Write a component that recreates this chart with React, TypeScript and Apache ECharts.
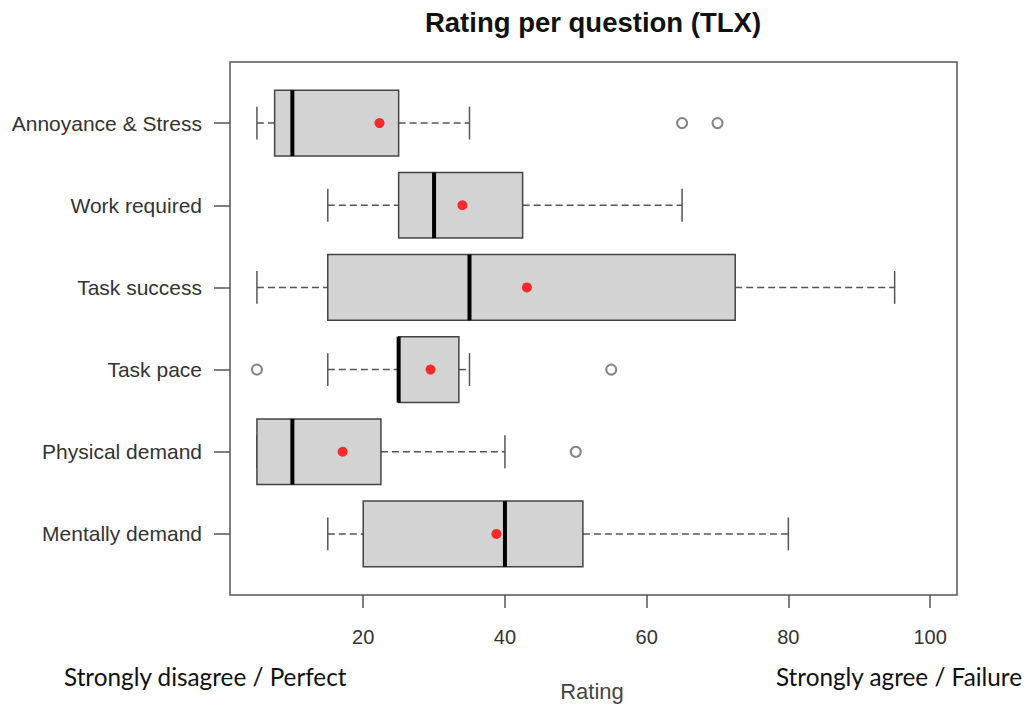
import React, { useEffect, useRef } from "react";
import * as echarts from "echarts";

const categories = [
  "Annoyance & Stress",
  "Work required",
  "Task success",
  "Task pace",
  "Physical demand",
  "Mentally demand",
];
const whiskerLow = [5, 15, 5, 15, 5, 15];
const quartile1 = [7.5, 25, 15, 25, 5, 20];
const medians = [10, 30, 35, 25, 10, 40];
const quartile3 = [25, 42.5, 72.5, 33.5, 22.5, 51];
const whiskerHigh = [35, 65, 95, 35, 40, 80];
const means = [22.3, 34, 43.1, 29.5, 17.1, 38.8];
const outlierCategories = [
  "Annoyance & Stress",
  "Annoyance & Stress",
  "Task pace",
  "Task pace",
  "Physical demand",
];
const outlierValues = [65, 70, 5, 55, 50];
const xTicks = [20, 40, 60, 80, 100];

const AXIS_FONT = "Liberation Sans, Arial, sans-serif";
const NOTE_FONT = "Lato, Open Sans, sans-serif";

export default function App() {
  const ref = useRef<HTMLDivElement>(null);

  useEffect(() => {
    if (!ref.current) return;
    const chart = echarts.init(ref.current, null, { renderer: "svg" });

    const boxData = categories.map((_, i) => [
      i,
      whiskerLow[i],
      quartile1[i],
      medians[i],
      quartile3[i],
      whiskerHigh[i],
    ]);
    const meanData = categories.map((_, i) => [means[i], i]);
    const outlierData = outlierValues.map((v, i) => [
      v,
      categories.indexOf(outlierCategories[i]),
    ]);

    const option: any = {
      animation: false,
      backgroundColor: "#ffffff",
      textStyle: { fontFamily: AXIS_FONT },
      grid: { left: 230, right: 72, top: 82, bottom: 131, containLabel: false },
      xAxis: {
        type: "value",
        min: 1.2,
        max: 103.8,
        offset: 20,
        axisLine: { show: false },
        splitLine: { show: false },
        axisTick: {
          show: true,
          length: 13,
          customValues: xTicks,
          lineStyle: { color: "#555", width: 1.5 },
        },
        axisLabel: {
          customValues: xTicks,
          fontSize: 20,
          color: "#333",
          margin: 32,
          fontFamily: AXIS_FONT,
        },
      },
      yAxis: {
        type: "category",
        data: categories,
        inverse: true,
        axisLine: { show: false },
        splitLine: { show: false },
        axisTick: {
          show: true,
          alignWithLabel: true,
          length: 16,
          lineStyle: { color: "#555", width: 1.5 },
        },
        axisLabel: {
          fontSize: 21,
          color: "#333",
          margin: 28,
          fontFamily: AXIS_FONT,
        },
      },
      graphic: [
        {
          type: "rect",
          shape: { x: 230, y: 62, width: 727, height: 533 },
          style: { fill: "none", stroke: "#555", lineWidth: 1.5 },
          z: 100,
          silent: true,
        },
        {
          type: "text",
          x: 593,
          y: 22,
          style: {
            text: "Rating per question (TLX)",
            fontFamily: AXIS_FONT,
            fontSize: 27.5,
            fontWeight: "bold",
            fill: "#111",
            align: "center",
            verticalAlign: "middle",
          },
        },
        {
          type: "text",
          x: 592,
          y: 691,
          style: {
            text: "Rating",
            fontFamily: AXIS_FONT,
            fontSize: 22,
            fill: "#444",
            align: "center",
            verticalAlign: "middle",
          },
        },
        {
          type: "text",
          x: 64,
          y: 676,
          style: {
            text: "Strongly disagree / Perfect",
            fontFamily: NOTE_FONT,
            fontSize: 24.3,
            fill: "#111",
            align: "left",
            verticalAlign: "middle",
          },
        },
        {
          type: "text",
          x: 1022,
          y: 676,
          style: {
            text: "Strongly agree / Failure",
            fontFamily: NOTE_FONT,
            fontSize: 24.3,
            fill: "#111",
            align: "right",
            verticalAlign: "middle",
          },
        },
      ],
      series: [
        {
          type: "custom",
          data: boxData,
          encode: { y: 0, x: [1, 2, 3, 4, 5] },
          renderItem: (params: any, api: any) => {
            const cat = api.value(0);
            const lo = api.coord([api.value(1), cat]);
            const a = api.coord([api.value(2), cat]);
            const m = api.coord([api.value(3), cat]);
            const b = api.coord([api.value(4), cat]);
            const hi = api.coord([api.value(5), cat]);
            const band = api.size([0, 1])[1];
            const h = band * 0.8;
            const cap = h / 2;
            const y = m[1];
            const whisk = { stroke: "#555", lineWidth: 1.5, lineDash: [7, 4] };
            const solid = { stroke: "#555", lineWidth: 1.5 };
            const children: any[] = [];
            if (a[0] > lo[0]) {
              children.push({
                type: "line",
                shape: { x1: lo[0], y1: y, x2: a[0], y2: y },
                style: whisk,
              });
            }
            if (hi[0] > b[0]) {
              children.push({
                type: "line",
                shape: { x1: b[0], y1: y, x2: hi[0], y2: y },
                style: whisk,
              });
            }
            children.push({
              type: "line",
              shape: { x1: lo[0], y1: y - cap / 2, x2: lo[0], y2: y + cap / 2 },
              style: solid,
            });
            children.push({
              type: "line",
              shape: { x1: hi[0], y1: y - cap / 2, x2: hi[0], y2: y + cap / 2 },
              style: solid,
            });
            children.push({
              type: "rect",
              shape: { x: a[0], y: y - h / 2, width: b[0] - a[0], height: h },
              style: { fill: "#D3D3D3", stroke: "#444", lineWidth: 1.5 },
            });
            children.push({
              type: "line",
              shape: { x1: m[0], y1: y - h / 2, x2: m[0], y2: y + h / 2 },
              style: { stroke: "#000", lineWidth: 4 },
            });
            return { type: "group", children };
          },
          z: 2,
        },
        {
          type: "scatter",
          data: outlierData,
          symbol: "emptyCircle",
          symbolSize: 10,
          itemStyle: { color: "#666", borderColor: "#666", borderWidth: 1.5 },
          z: 3,
        },
        {
          type: "scatter",
          data: meanData,
          symbol: "circle",
          symbolSize: 10,
          itemStyle: { color: "#FF0000" },
          z: 4,
        },
      ],
    };

    chart.setOption(option);
    return () => chart.dispose();
  }, []);

  return (
    <div
      ref={ref}
      style={{ position: "absolute", left: 0, top: 0, width: 1029, height: 706 }}
    />
  );
}
